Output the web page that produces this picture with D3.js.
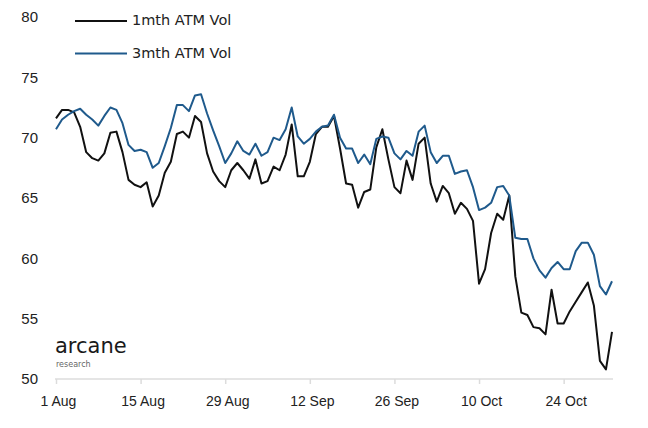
<!DOCTYPE html>
<html>
<head>
<meta charset="utf-8">
<script src="https://cdn.jsdelivr.net/npm/d3@7"></script>
<style>
  body { margin: 0; background: #fff; }
  svg { display: block; font-family: "DejaVu Sans", "Open Sans", sans-serif; }
</style>
</head>
<body>
<div id="chart"></div>
<script>
const startDate = new Date(2022, 7, 1);

// daily values, 1 Aug -> 1 Nov
const vol1m = [
  71.6, 72.3, 72.3, 72.1, 70.9, 68.8, 68.3, 68.1, 68.7, 70.4, 70.5, 68.8,
  66.5, 66.1, 65.9, 66.3, 64.3, 65.2, 67.1, 68.0, 70.3, 70.5, 70.0, 71.8,
  71.3, 68.7, 67.2, 66.4, 65.9, 67.3, 67.9, 67.3, 66.6, 68.2, 66.2, 66.4,
  67.6, 67.3, 68.6, 71.1, 66.8, 66.8, 68.0, 70.3, 70.9, 70.9, 71.8,
  69.1, 66.2, 66.1, 64.2, 65.5, 65.7, 69.2, 70.7, 68.2, 65.9, 65.4, 68.1,
  66.5, 69.5, 70.0, 66.2, 64.7, 66.0, 65.4, 63.7, 64.6, 64.1, 63.1,
  57.9, 59.1, 62.1, 63.7, 63.2, 65.2, 58.5, 55.5, 55.3, 54.3, 54.2, 53.7,
  57.4, 54.6, 54.6, 55.6, 56.4, 57.2, 58.0, 56.1, 51.5, 50.8, 53.9
];

const vol3m = [
  70.7, 71.5, 71.9, 72.2, 72.4, 71.9, 71.5, 71.0, 71.8, 72.5, 72.3, 71.2,
  69.4, 68.9, 69.0, 68.8, 67.5, 67.9, 69.3, 70.8, 72.7, 72.7, 72.2, 73.5,
  73.6, 72.0, 70.6, 69.3, 67.9, 68.7, 69.7, 68.9, 68.6, 69.5, 68.5, 68.8,
  70.0, 69.8, 70.7, 72.5, 70.1, 69.5, 69.9, 70.5, 70.9, 71.0, 71.9,
  70.0, 69.1, 69.1, 67.9, 68.6, 67.8, 69.9, 70.1, 70.0, 68.7, 68.2, 68.9,
  68.5, 70.5, 71.0, 68.8, 67.9, 68.5, 68.5, 67.0, 67.2, 67.3, 65.9,
  64.0, 64.2, 64.6, 65.9, 66.0, 65.2, 61.7, 61.6, 61.6, 60.0, 59.0, 58.4,
  59.2, 59.7, 59.1, 59.1, 60.6, 61.3, 61.3, 60.3, 57.7, 57.0, 58.1
];

const seriesNames = ["1mth ATM Vol", "3mth ATM Vol"];
const seriesColors = ["#111111", "#1f5a8c"];
const yTicks = [50, 55, 60, 65, 70, 75, 80];
const xTickDates = [
  new Date(2022, 7, 1), new Date(2022, 7, 15), new Date(2022, 7, 29),
  new Date(2022, 8, 12), new Date(2022, 8, 26), new Date(2022, 9, 10),
  new Date(2022, 9, 24)
];

const width = 648, height = 428;
const dayMs = 24 * 3600 * 1000;
const dates = vol1m.map((_, i) => new Date(startDate.getTime() + i * dayMs));

const svg = d3.select("#chart").append("svg")
  .attr("width", width)
  .attr("height", height);

const x = d3.scaleTime()
  .domain([dates[0], dates[dates.length - 1]])
  .range([56, 612]);

const y = d3.scaleLinear()
  .domain([50, 80])
  .range([379, 17]);

// x axis
const xAxis = svg.append("g")
  .attr("transform", `translate(0,${y(50)})`)
  .call(d3.axisBottom(x)
    .tickValues(xTickDates)
    .tickSize(5)
    .tickPadding(12)
    .tickFormat(d3.timeFormat("%-d %b")));
xAxis.select(".domain")
  .attr("d", `M55,0H613`)
  .attr("stroke", "#dcdcdc")
  .attr("stroke-width", 1.5);
xAxis.selectAll(".tick line").attr("stroke", "#dcdcdc").attr("stroke-width", 1.5);
xAxis.selectAll(".tick text")
  .attr("fill", "#222")
  .style("font-size", "14px")
  .attr("dx", 2);

// y axis, labels only
const yAxis = svg.append("g")
  .attr("transform", "translate(38,0)")
  .call(d3.axisLeft(y).tickValues(yTicks).tickSize(0).tickPadding(0));
yAxis.select(".domain").remove();
yAxis.selectAll(".tick text")
  .attr("fill", "#222")
  .style("font-size", "15px");

// lines
const line = d3.line()
  .x((d, i) => x(dates[i]))
  .y(d => y(d));

[vol1m, vol3m].forEach((vals, k) => {
  svg.append("path")
    .datum(vals)
    .attr("fill", "none")
    .attr("stroke", seriesColors[k])
    .attr("stroke-width", 2)
    .attr("stroke-linejoin", "round")
    .attr("d", line);
});

// legend
const legend = svg.append("g");
seriesNames.forEach((name, k) => {
  const ly = 21 + k * 32.5;
  legend.append("line")
    .attr("x1", 75).attr("x2", 127)
    .attr("y1", ly).attr("y2", ly)
    .attr("stroke", seriesColors[k])
    .attr("stroke-width", 2);
  legend.append("text")
    .attr("x", 132).attr("y", ly)
    .attr("dominant-baseline", "middle")
    .attr("fill", "#222")
    .style("font-size", "14.5px")
    .text(name);
});

// logo
svg.append("text")
  .attr("x", 55).attr("y", 353)
  .attr("fill", "#1a1a1a")
  .style("font-size", "21px")
  .text("arcane");
svg.append("text")
  .attr("x", 56).attr("y", 367)
  .attr("fill", "#666")
  .style("font-size", "8px")
  .text("research");
</script>
</body>
</html>
